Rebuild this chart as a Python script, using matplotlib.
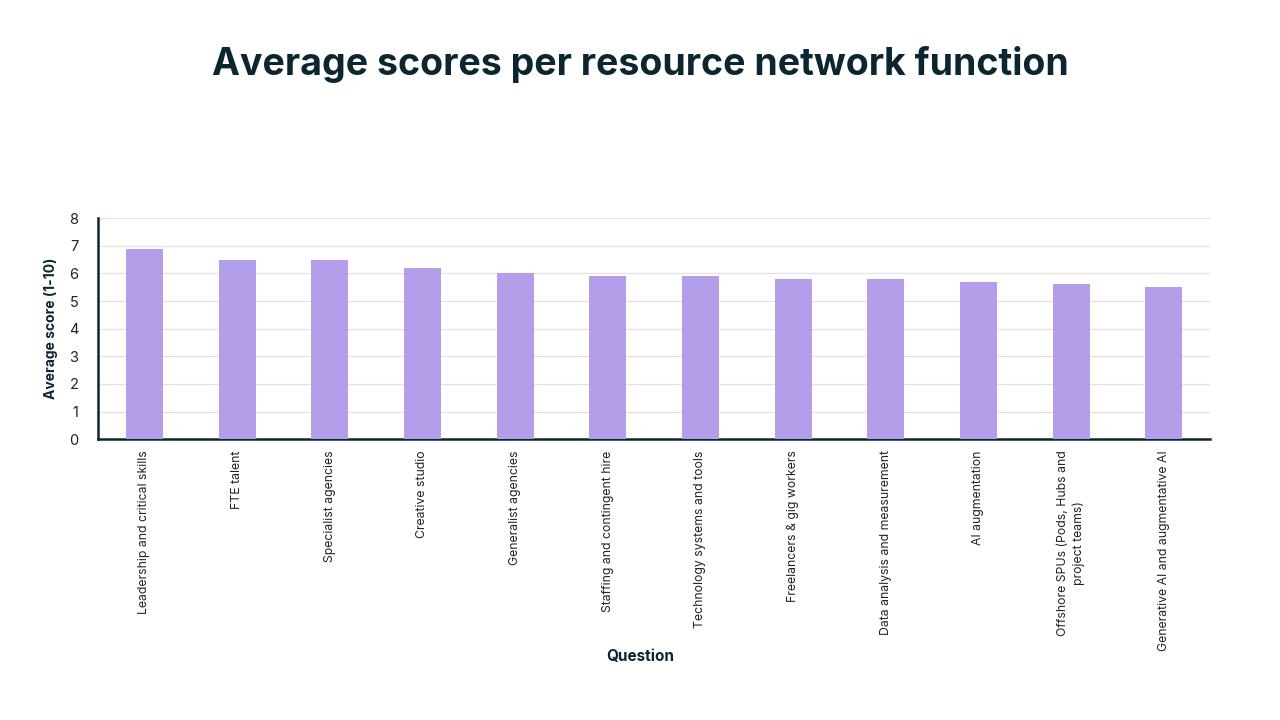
import matplotlib
matplotlib.use("Agg")
import matplotlib.pyplot as plt

categories = [
    "Leadership and critical skills",
    "FTE talent",
    "Specialist agencies",
    "Creative studio",
    "Generalist agencies",
    "Staffing and contingent hire",
    "Technology systems and tools",
    "Freelancers & gig workers",
    "Data analysis and measurement",
    "AI augmentation",
    "Offshore SPUs (Pods, Hubs and\nproject teams)",
    "Generative AI and augmentative AI",
]
scores = [6.9, 6.5, 6.5, 6.2, 6.0, 5.9, 5.9, 5.8, 5.8, 5.7, 5.6, 5.5]
y_ticks = [0, 1, 2, 3, 4, 5, 6, 7, 8]

dark = "#0b2630"
bar_color = "#b59ee9"

plt.rcParams["font.family"] = ["Inter", "DejaVu Sans"]

fig = plt.figure(figsize=(12.8, 7.2), dpi=100)
ax = fig.add_axes([0.0766, 0.390, 0.8688, 0.307])

x = range(len(categories))
ax.bar(x, scores, width=0.4, color=bar_color, zorder=3)

ax.set_xlim(-0.5, len(categories) - 0.5)
ax.set_ylim(0, 8)
ax.set_yticks(y_ticks)
ax.set_yticklabels([str(t) for t in y_ticks], fontsize=10.5, color="#222222")
ax.set_xticks(list(x))
ax.set_xticklabels(categories, rotation=90, fontsize=8.8, color="#222222",
                   va="top", ha="center", multialignment="center", linespacing=1.35)
ax.tick_params(axis="both", length=0)
ax.tick_params(axis="y", pad=14)
ax.tick_params(axis="x", pad=8)

ax.grid(axis="y", color="#e2e2e2", linewidth=0.9, zorder=0)
for s in ["top", "right"]:
    ax.spines[s].set_visible(False)
for s in ["left", "bottom"]:
    ax.spines[s].set_color(dark)
    ax.spines[s].set_linewidth(1.8)

ax.set_ylabel("Average score (1-10)", fontsize=10, fontweight="bold", color=dark, labelpad=8)
fig.text(0.5, 0.0875, "Question", ha="center", va="center", fontsize=11,
         fontweight="bold", color=dark)

fig.text(0.5, 0.911, "Average scores per resource network function", ha="center",
         va="center", fontsize=27, fontweight="bold", color=dark)

fig.savefig("out.png", dpi=100, facecolor="white")
